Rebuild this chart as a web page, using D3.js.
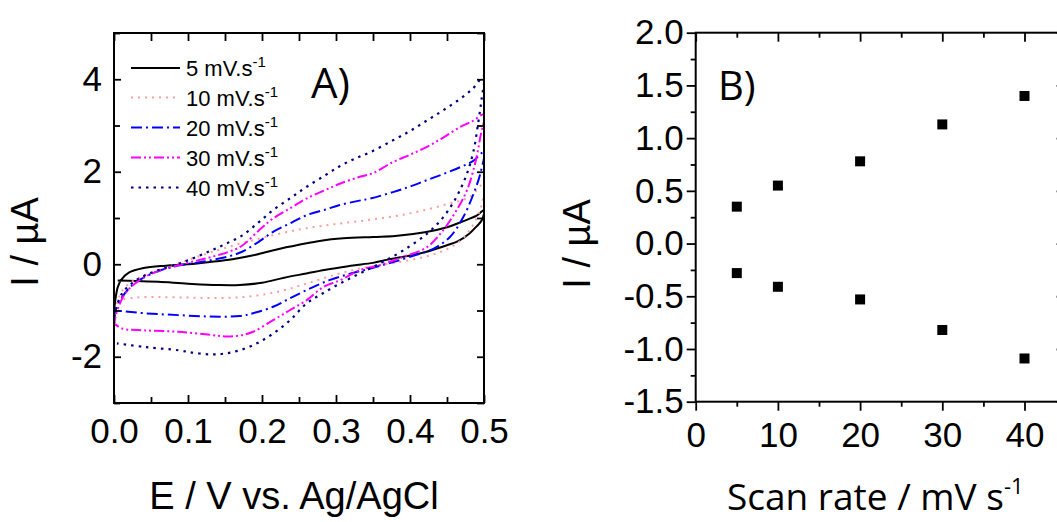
<!DOCTYPE html>
<html>
<head>
<meta charset="utf-8">
<script src="https://cdn.jsdelivr.net/npm/d3@7"></script>
<style>
  html, body { margin: 0; padding: 0; background: #fff; }
  svg { display: block; }
</style>
</head>
<body>
<svg id="chart" width="1057" height="522"></svg>
<script>
// ---------- DATA ----------
// Panel A: cyclic voltammograms (E in V, I in µA); each = anodic sweep then cathodic sweep
const scanLabels = ["5", "10", "20", "30", "40"];

const E5 = [0, 0.002, 0.005, 0.01, 0.02, 0.04, 0.07, 0.1, 0.13, 0.16, 0.19, 0.22, 0.25, 0.28, 0.31, 0.35, 0.38, 0.42, 0.45, 0.47, 0.49, 0.5,
            0.497, 0.49, 0.48, 0.465, 0.45, 0.42, 0.4, 0.37, 0.35, 0.32, 0.29, 0.26, 0.23, 0.2, 0.17, 0.14, 0.1, 0.06, 0.03, 0.005];
const I5 = [-1.05, -0.75, -0.5, -0.33, -0.18, -0.08, -0.03, 0.0, 0.05, 0.11, 0.2, 0.32, 0.42, 0.51, 0.56, 0.59, 0.61, 0.69, 0.8, 0.92, 1.05, 1.17,
            0.95, 0.82, 0.66, 0.5, 0.41, 0.26, 0.19, 0.1, 0.03, -0.03, -0.11, -0.2, -0.29, -0.4, -0.45, -0.45, -0.42, -0.38, -0.36, -0.35];

const E10 = [0, 0.005, 0.01, 0.02, 0.04, 0.08, 0.12, 0.16, 0.2, 0.25, 0.3, 0.35, 0.4, 0.45, 0.48, 0.5,
             0.497, 0.49, 0.48, 0.465, 0.445, 0.42, 0.39, 0.36, 0.33, 0.3, 0.26, 0.22, 0.18, 0.14, 0.1, 0.06, 0.03, 0.01, 0.003];
const I10 = [-1.0, -0.8, -0.6, -0.42, -0.25, -0.02, 0.2, 0.4, 0.57, 0.75, 0.87, 0.97, 1.1, 1.3, 1.45, 1.75,
             1.3, 1.0, 0.72, 0.47, 0.29, 0.16, 0.06, -0.02, -0.1, -0.22, -0.42, -0.6, -0.7, -0.73, -0.72, -0.71, -0.72, -0.78, -0.92];

const E20 = [0, 0.002, 0.011, 0.025, 0.042, 0.065, 0.087, 0.11, 0.132, 0.155, 0.173, 0.195, 0.215, 0.24, 0.26, 0.285, 0.305, 0.33, 0.346, 0.377, 0.4, 0.423, 0.445, 0.468, 0.485, 0.5,
             0.495, 0.486, 0.472, 0.454, 0.432, 0.4, 0.369, 0.345, 0.32, 0.29, 0.26, 0.235, 0.215, 0.19, 0.17, 0.13, 0.087, 0.042, 0.015, 0.003];
const I20 = [-1.15, -1.0, -0.71, -0.45, -0.27, -0.12, -0.03, 0.03, 0.09, 0.17, 0.27, 0.48, 0.70, 0.9, 1.06, 1.18, 1.28, 1.37, 1.42, 1.56, 1.68, 1.82, 1.95, 2.1, 2.23, 2.43,
             1.96, 1.53, 1.02, 0.59, 0.34, 0.16, 0.01, -0.1, -0.2, -0.35, -0.56, -0.76, -0.92, -1.05, -1.12, -1.13, -1.1, -1.06, -1.02, -1.0];

const E30 = [0, 0.002, 0.008, 0.015, 0.028, 0.042, 0.065, 0.087, 0.11, 0.132, 0.155, 0.173, 0.195, 0.215, 0.24, 0.26, 0.285, 0.305, 0.33, 0.35, 0.377, 0.4, 0.423, 0.445, 0.468, 0.485, 0.5,
             0.495, 0.488, 0.477, 0.463, 0.445, 0.423, 0.391, 0.359, 0.332, 0.305, 0.283, 0.26, 0.237, 0.215, 0.188, 0.17, 0.15, 0.132, 0.087, 0.042, 0.011, 0.002];
const I30 = [-1.35, -1.14, -0.85, -0.63, -0.42, -0.27, -0.12, -0.02, 0.07, 0.16, 0.27, 0.4, 0.72, 0.99, 1.23, 1.42, 1.6, 1.74, 1.88, 1.97, 2.21, 2.37, 2.54, 2.74, 2.97, 3.1, 3.24,
             2.75, 2.18, 1.6, 1.17, 0.74, 0.37, 0.16, -0.02, -0.13, -0.35, -0.49, -0.78, -1.0, -1.21, -1.46, -1.54, -1.56, -1.53, -1.46, -1.43, -1.39, -1.3];

const E40 = [0, 0.002, 0.011, 0.025, 0.042, 0.065, 0.087, 0.11, 0.132, 0.152, 0.173, 0.195, 0.215, 0.24, 0.26, 0.285, 0.305, 0.325, 0.346, 0.377, 0.4, 0.423, 0.445, 0.468, 0.485, 0.5,
             0.497, 0.492, 0.486, 0.477, 0.463, 0.445, 0.423, 0.391, 0.359, 0.332, 0.305, 0.28, 0.26, 0.238, 0.215, 0.193, 0.17, 0.15, 0.132, 0.11, 0.087, 0.042, 0.004];
const I40 = [-1.3, -1.0, -0.63, -0.4, -0.24, -0.1, 0.01, 0.15, 0.3, 0.45, 0.62, 0.9, 1.17, 1.45, 1.67, 1.92, 2.12, 2.28, 2.42, 2.68, 2.88, 3.11, 3.33, 3.58, 3.8, 4.07,
             3.6, 3.04, 2.46, 1.96, 1.46, 1.02, 0.66, 0.30, 0.014, -0.2, -0.42, -0.65, -0.85, -1.21, -1.5, -1.71, -1.86, -1.93, -1.95, -1.92, -1.86, -1.79, -1.71];

// Panel B: peak currents vs scan rate
const scanRates = [5, 10, 20, 30, 40];
const anodicPeak = [0.35, 0.55, 0.78, 1.13, 1.40];
const cathodicPeak = [-0.28, -0.41, -0.53, -0.82, -1.09];

// Tick values
const aXMajor = [0, 0.1, 0.2, 0.3, 0.4, 0.5];
const aXMinor = [0.05, 0.15, 0.25, 0.35, 0.45];
const aYMajor = [-2, 0, 2, 4];
const aYMinor = [-3, -1, 1, 3, 5];
const bXMajor = [0, 10, 20, 30, 40];
const bXMinor = [5, 15, 25, 35, 45];
const bYMajor = [-1.5, -1.0, -0.5, 0.0, 0.5, 1.0, 1.5, 2.0];
const bYMinor = [-1.25, -0.75, -0.25, 0.25, 0.75, 1.25, 1.75];

// ---------- DRAW ----------
const svg = d3.select("#chart");
const FONT = "'Liberation Sans', Arial, Helvetica, sans-serif";
const FONT2 = "'Open Sans', 'Liberation Sans', sans-serif";

// ----- Panel A -----
const xA = d3.scaleLinear().domain([0, 0.5]).range([114, 484]);
const yA = d3.scaleLinear().domain([-3, 5]).range([403, 33]);

svg.append("clipPath").attr("id", "clipA").append("rect")
  .attr("x", 114).attr("y", 33).attr("width", 370).attr("height", 370);

const series = [
  { E: E5, I: I5, color: "#000000", dash: null, width: 2 },
  { E: E10, I: I10, color: "#ff9c9c", dash: "2,5", width: 2 },
  { E: E20, I: I20, color: "#0000ff", dash: "11,4,2,4", width: 2 },
  { E: E30, I: I30, color: "#ff00ff", dash: "10,3,2,3,2,3", width: 2 },
  { E: E40, I: I40, color: "#000080", dash: "2.5,5", width: 2.2 }
];

const line = d3.line().x(d => xA(d[0])).y(d => yA(d[1])).curve(d3.curveCatmullRom.alpha(0.5));
const gCurves = svg.append("g").attr("clip-path", "url(#clipA)");
series.forEach(s => {
  const pts = s.E.map((e, i) => [e, s.I[i]]);
  const p = gCurves.append("path").attr("d", line(pts))
    .attr("fill", "none").attr("stroke", s.color).attr("stroke-width", s.width)
    .attr("stroke-linejoin", "round");
  if (s.dash) p.attr("stroke-dasharray", s.dash);
});

function styleAxis(g) {
  g.select(".domain").remove();
  g.selectAll(".tick line").attr("stroke", "#000").attr("stroke-width", 1.8);
  g.selectAll("text").attr("font-family", FONT).attr("font-size", 35).attr("fill", "#000");
}

const fmtA = v => String(v);
const fmtAx = v => v.toFixed(1);
// bottom
svg.append("g").attr("transform", "translate(0,403)")
  .call(d3.axisBottom(xA).tickValues(aXMajor).tickSize(-8).tickPadding(15).tickFormat(fmtAx)).call(styleAxis);
svg.append("g").attr("transform", "translate(0,403)")
  .call(d3.axisBottom(xA).tickValues(aXMinor).tickSize(-6).tickFormat("")).call(styleAxis);
// top
svg.append("g").attr("transform", "translate(0,33)")
  .call(d3.axisTop(xA).tickValues(aXMajor.concat(aXMinor)).tickSize(-8).tickFormat("")).call(styleAxis);
// left
svg.append("g").attr("transform", "translate(114,0)")
  .call(d3.axisLeft(yA).tickValues(aYMajor).tickSize(-7).tickPadding(12).tickFormat(fmtA)).call(styleAxis);
svg.append("g").attr("transform", "translate(114,0)")
  .call(d3.axisLeft(yA).tickValues(aYMinor).tickSize(-6).tickFormat("")).call(styleAxis);
// right
svg.append("g").attr("transform", "translate(484,0)")
  .call(d3.axisRight(yA).tickValues(aYMajor.concat(aYMinor)).tickSize(-7).tickFormat("")).call(styleAxis);

svg.append("rect").attr("x", 114).attr("y", 33).attr("width", 370).attr("height", 370)
  .attr("fill", "none").attr("stroke", "#000").attr("stroke-width", 2);

// legend
const legendY = [68, 97.5, 127.5, 157.5, 187.5];
series.forEach((s, i) => {
  const l = svg.append("line").attr("x1", 131).attr("x2", 180).attr("y1", legendY[i]).attr("y2", legendY[i])
    .attr("stroke", s.color).attr("stroke-width", s.width);
  if (s.dash) l.attr("stroke-dasharray", s.dash);
  const t = svg.append("text").attr("x", 186).attr("y", legendY[i] + 8)
    .attr("font-family", FONT).attr("font-size", 22).attr("fill", "#000");
  t.append("tspan").text(scanLabels[i] + " mV.s");
  t.append("tspan").attr("font-size", 15).attr("dy", -9).text("-1");
});

svg.append("text").attr("x", 311).attr("y", 98).attr("font-family", FONT2).attr("font-size", 42)
  .attr("fill", "#000").text("A)");

// axis titles A
svg.append("text").attr("x", 294).attr("y", 509).attr("text-anchor", "middle")
  .attr("font-family", FONT).attr("font-size", 38).attr("fill", "#000").text("E / V vs. Ag/AgCl");
svg.append("text").attr("transform", "translate(38,242) rotate(-90)").attr("text-anchor", "middle")
  .attr("font-family", FONT).attr("font-size", 38).attr("fill", "#000").text("I / µA");

// ----- Panel B -----
const xB = d3.scaleLinear().domain([0, 45]).range([695.7, 1065.6]);
const yB = d3.scaleLinear().domain([-1.5, 2.0]).range([401.7, 32.7]);
const fmtB = v => v.toFixed(1);

svg.append("g").attr("transform", "translate(0,401.7)")
  .call(d3.axisBottom(xB).tickValues(bXMajor).tickSize(9).tickPadding(11).tickFormat(d3.format("d"))).call(styleAxis);
svg.append("g").attr("transform", "translate(0,401.7)")
  .call(d3.axisBottom(xB).tickValues(bXMinor).tickSize(5).tickFormat("")).call(styleAxis);
svg.append("g").attr("transform", "translate(0,32.7)")
  .call(d3.axisTop(xB).tickValues(bXMajor).tickSize(-9).tickFormat("")).call(styleAxis);
svg.append("g").attr("transform", "translate(0,32.7)")
  .call(d3.axisTop(xB).tickValues(bXMinor).tickSize(-5).tickFormat("")).call(styleAxis);
svg.append("g").attr("transform", "translate(695.7,0)")
  .call(d3.axisLeft(yB).tickValues(bYMajor).tickSize(9).tickPadding(3).tickFormat(fmtB)).call(styleAxis);
svg.append("g").attr("transform", "translate(695.7,0)")
  .call(d3.axisLeft(yB).tickValues(bYMinor).tickSize(5).tickFormat("")).call(styleAxis);
svg.append("g").attr("transform", "translate(1065.6,0)")
  .call(d3.axisRight(yB).tickValues(bYMajor).tickSize(-9).tickFormat("")).call(styleAxis);
svg.append("g").attr("transform", "translate(1065.6,0)")
  .call(d3.axisRight(yB).tickValues(bYMinor).tickSize(-5).tickFormat("")).call(styleAxis);

svg.append("rect").attr("x", 695.7).attr("y", 32.7).attr("width", 1065.6 - 695.7).attr("height", 401.7 - 32.7)
  .attr("fill", "none").attr("stroke", "#000").attr("stroke-width", 2);

const sq = d3.symbol().type(d3.symbolSquare).size(100);
[anodicPeak, cathodicPeak].forEach(arr => {
  svg.append("g").selectAll("path").data(scanRates).join("path")
    .attr("d", sq)
    .attr("transform", (d, i) => `translate(${xB(d)},${yB(arr[i])})`)
    .attr("fill", "#000");
});

svg.append("text").attr("x", 718).attr("y", 100).attr("font-family", FONT2).attr("font-size", 40)
  .attr("fill", "#000").text("B)");

const tB = svg.append("text").attr("x", 727).attr("y", 510)
  .attr("font-family", FONT2).attr("font-size", 37).attr("fill", "#000");
tB.append("tspan").text("Scan rate / mV s");
tB.append("tspan").attr("font-size", 22).attr("dy", -16).text("-1");

svg.append("text").attr("transform", "translate(590,244) rotate(-90)").attr("text-anchor", "middle")
  .attr("font-family", FONT).attr("font-size", 38).attr("fill", "#000").text("I / µA");
</script>
</body>
</html>
